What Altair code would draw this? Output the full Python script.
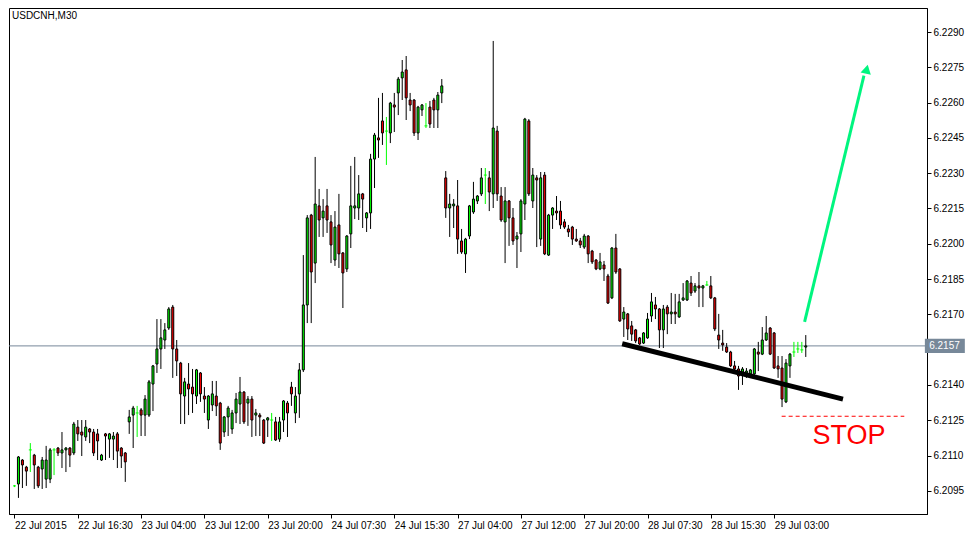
import altair as alt
import pandas as pd

# ---------------- data ----------------
opens = [6.20971, 6.20979, 6.21081, 6.21051, 6.21124, 6.21102, 6.21051, 6.21043, 6.21000, 6.21000,
         6.21124, 6.21132, 6.21111, 6.21124, 6.21132, 6.21111, 6.21221, 6.21200, 6.21179, 6.21213,
         6.21200, 6.21192, 6.21081, 6.21192, 6.21170, 6.21170, 6.21192, 6.21132, 6.21111, 6.21243,
         6.21272, 6.21281, 6.21294, 6.21272, 6.21272, 6.21404, 6.21489, 6.21553, 6.21591, 6.21642,
         6.21731, 6.21553, 6.21493, 6.21353, 6.21404, 6.21391, 6.21353, 6.21451, 6.21353, 6.21251,
         6.21315, 6.21353, 6.21323, 6.21200, 6.21264, 6.21213, 6.21281, 6.21319, 6.21370, 6.21323,
         6.21340, 6.21272, 6.21272, 6.21251, 6.21251, 6.21251, 6.21243, 6.21170, 6.21251, 6.21323,
         6.21391, 6.21281, 6.21362, 6.21464, 6.21740, 6.22122, 6.21918, 6.22161, 6.22110, 6.22161,
         6.22093, 6.21931, 6.22080, 6.21961, 6.21893, 6.22042, 6.22152, 6.22152, 6.22212, 6.22110,
         6.22131, 6.22360, 6.22450, 6.22522, 6.22479, 6.22471, 6.22590, 6.22641, 6.22705, 6.22739,
         6.22611, 6.22611, 6.22471, 6.22569, 6.22501, 6.22581, 6.22611, 6.22569, 6.22641, 6.22280,
         6.22152, 6.22161, 6.22161, 6.22012, 6.21957, 6.22033, 6.22135, 6.22182, 6.22212, 6.22292,
         6.22280, 6.22212, 6.22479, 6.22203, 6.22093, 6.22182, 6.22110, 6.22020, 6.22042, 6.22169,
         6.22522, 6.22182, 6.22280, 6.22020, 6.22292, 6.21952, 6.22122, 6.22139, 6.22139, 6.22093,
         6.22063, 6.22071, 6.22020, 6.22012, 6.21986, 6.22033, 6.21969, 6.21931, 6.21893, 6.21910,
         6.21863, 6.21770, 6.21982, 6.21893, 6.21680, 6.21702, 6.21651, 6.21634, 6.21600, 6.21578,
         6.21600, 6.21693, 6.21740, 6.21723, 6.21634, 6.21731, 6.21702, 6.21710, 6.21689, 6.21761,
         6.21761, 6.21833, 6.21799, 6.21821, 6.21812, 6.21825, 6.21821, 6.21770, 6.21612, 6.21578,
         6.21561, 6.21540, 6.21481, 6.21468, 6.21455, 6.21451, 6.21447, 6.21447, 6.21540, 6.21531,
         6.21591, 6.21642, 6.21621, 6.21481, 6.21472, 6.21328, 6.21481, 6.21540, 6.21553, 6.21549,
         6.21561]

highs = [6.20975, 6.21098, 6.21085, 6.21056, 6.21153, 6.21107, 6.21056, 6.21094, 6.21141, 6.21132,
         6.21132, 6.21136, 6.21200, 6.21136, 6.21136, 6.21243, 6.21251, 6.21251, 6.21251, 6.21217,
         6.21213, 6.21213, 6.21107, 6.21196, 6.21196, 6.21200, 6.21200, 6.21136, 6.21115, 6.21294,
         6.21311, 6.21311, 6.21302, 6.21357, 6.21421, 6.21485, 6.21680, 6.21680, 6.21663, 6.21731,
         6.21740, 6.21591, 6.21498, 6.21430, 6.21493, 6.21468, 6.21468, 6.21455, 6.21391, 6.21357,
         6.21417, 6.21417, 6.21328, 6.21268, 6.21311, 6.21294, 6.21366, 6.21434, 6.21374, 6.21353,
         6.21353, 6.21298, 6.21281, 6.21255, 6.21264, 6.21281, 6.21264, 6.21264, 6.21336, 6.21332,
         6.21413, 6.21391, 6.21493, 6.21952, 6.22122, 6.22127, 6.22369, 6.22233, 6.22190, 6.22233,
         6.22122, 6.22139, 6.22212, 6.21965, 6.22037, 6.22331, 6.22369, 6.22292, 6.22216, 6.22135,
         6.22382, 6.22471, 6.22620, 6.22641, 6.22539, 6.22603, 6.22641, 6.22709, 6.22781, 6.22798,
         6.22641, 6.22615, 6.22586, 6.22594, 6.22598, 6.22607, 6.22620, 6.22645, 6.22700, 6.22309,
         6.22212, 6.22190, 6.22271, 6.22063, 6.22025, 6.22165, 6.22263, 6.22207, 6.22322, 6.22322,
         6.22309, 6.22862, 6.22501, 6.22241, 6.22241, 6.22186, 6.22152, 6.22050, 6.22190, 6.22535,
         6.22530, 6.22322, 6.22292, 6.22305, 6.22305, 6.22127, 6.22156, 6.22203, 6.22182, 6.22105,
         6.22080, 6.22076, 6.22063, 6.22025, 6.22042, 6.22037, 6.21974, 6.21935, 6.21961, 6.21927,
         6.21872, 6.21986, 6.22042, 6.21897, 6.21731, 6.21706, 6.21672, 6.21638, 6.21604, 6.21625,
         6.21706, 6.21791, 6.21774, 6.21727, 6.21740, 6.21740, 6.21791, 6.21787, 6.21787, 6.21833,
         6.21846, 6.21863, 6.21833, 6.21880, 6.21825, 6.21842, 6.21863, 6.21774, 6.21702, 6.21634,
         6.21578, 6.21545, 6.21502, 6.21481, 6.21476, 6.21472, 6.21468, 6.21557, 6.21583, 6.21646,
         6.21693, 6.21646, 6.21625, 6.21523, 6.21523, 6.21510, 6.21536, 6.21583, 6.21583, 6.21583,
         6.21612]

lows = [6.20966, 6.20920, 6.20962, 6.20971, 6.21030, 6.20958, 6.20962, 6.20958, 6.20962, 6.20983,
        6.21017, 6.21098, 6.21047, 6.21030, 6.21051, 6.21102, 6.21162, 6.21098, 6.21162, 6.21153,
        6.21098, 6.21081, 6.21077, 6.21081, 6.21090, 6.21081, 6.21047, 6.21047, 6.20988, 6.21192,
        6.21132, 6.21179, 6.21183, 6.21183, 6.21264, 6.21289, 6.21451, 6.21468, 6.21553, 6.21634,
        6.21430, 6.21438, 6.21234, 6.21234, 6.21272, 6.21281, 6.21319, 6.21328, 6.21281, 6.21213,
        6.21289, 6.21268, 6.21124, 6.21179, 6.21183, 6.21192, 6.21238, 6.21234, 6.21234, 6.21226,
        6.21179, 6.21183, 6.21183, 6.21149, 6.21179, 6.21162, 6.21162, 6.21158, 6.21200, 6.21179,
        6.21311, 6.21238, 6.21260, 6.21455, 6.21663, 6.21663, 6.21833, 6.22029, 6.22029, 6.22046,
        6.21918, 6.21906, 6.21897, 6.21727, 6.21880, 6.21982, 6.22105, 6.22101, 6.22067, 6.22050,
        6.22063, 6.22237, 6.22365, 6.22420, 6.22335, 6.22428, 6.22475, 6.22547, 6.22611, 6.22526,
        6.22564, 6.22458, 6.22441, 6.22543, 6.22492, 6.22492, 6.22492, 6.22492, 6.22598, 6.22110,
        6.22029, 6.22067, 6.21957, 6.21957, 6.21876, 6.22020, 6.22127, 6.22169, 6.22203, 6.22169,
        6.22139, 6.22152, 6.22182, 6.22093, 6.21918, 6.21991, 6.21995, 6.21897, 6.21965, 6.22101,
        6.22203, 6.22152, 6.21986, 6.21991, 6.21952, 6.21948, 6.22063, 6.22101, 6.22063, 6.22063,
        6.22029, 6.21995, 6.22008, 6.21982, 6.21978, 6.21918, 6.21914, 6.21888, 6.21888, 6.21842,
        6.21744, 6.21765, 6.21872, 6.21668, 6.21604, 6.21591, 6.21587, 6.21578, 6.21570, 6.21574,
        6.21596, 6.21668, 6.21680, 6.21557, 6.21557, 6.21616, 6.21659, 6.21659, 6.21685, 6.21757,
        6.21757, 6.21778, 6.21791, 6.21731, 6.21731, 6.21821, 6.21765, 6.21629, 6.21553, 6.21545,
        6.21536, 6.21476, 6.21459, 6.21379, 6.21400, 6.21430, 6.21438, 6.21443, 6.21459, 6.21527,
        6.21587, 6.21527, 6.21468, 6.21430, 6.21306, 6.21323, 6.21430, 6.21519, 6.21536, 6.21536,
        6.21519]

closes = [6.20971, 6.21094, 6.21060, 6.21034, 6.21124, 6.21060, 6.20971, 6.21081, 6.21081, 6.21124,
          6.21124, 6.21111, 6.21124, 6.21132, 6.21102, 6.21234, 6.21192, 6.21187, 6.21221, 6.21200,
          6.21111, 6.21162, 6.21102, 6.21183, 6.21192, 6.21183, 6.21119, 6.21098, 6.21073, 6.21264,
          6.21302, 6.21281, 6.21272, 6.21340, 6.21413, 6.21481, 6.21553, 6.21600, 6.21634, 6.21723,
          6.21553, 6.21502, 6.21362, 6.21413, 6.21383, 6.21362, 6.21464, 6.21362, 6.21340, 6.21353,
          6.21362, 6.21311, 6.21153, 6.21264, 6.21302, 6.21281, 6.21340, 6.21370, 6.21243, 6.21340,
          6.21251, 6.21281, 6.21264, 6.21153, 6.21260, 6.21251, 6.21166, 6.21243, 6.21332, 6.21281,
          6.21362, 6.21353, 6.21464, 6.21740, 6.22110, 6.21880, 6.22169, 6.22101, 6.22139, 6.22101,
          6.21995, 6.22071, 6.21957, 6.21876, 6.22033, 6.22161, 6.22161, 6.22212, 6.22190, 6.22131,
          6.22360, 6.22462, 6.22441, 6.22471, 6.22479, 6.22598, 6.22581, 6.22700, 6.22730, 6.22620,
          6.22590, 6.22471, 6.22581, 6.22590, 6.22501, 6.22509, 6.22569, 6.22632, 6.22671, 6.22152,
          6.22169, 6.22169, 6.22020, 6.21965, 6.22020, 6.22161, 6.22190, 6.22203, 6.22280, 6.22292,
          6.22220, 6.22492, 6.22212, 6.22101, 6.22182, 6.22110, 6.22012, 6.22033, 6.22182, 6.22530,
          6.22212, 6.22292, 6.22271, 6.22280, 6.21957, 6.22122, 6.22152, 6.22131, 6.22080, 6.22071,
          6.22050, 6.22020, 6.22012, 6.21995, 6.22033, 6.21957, 6.21923, 6.21893, 6.21923, 6.21893,
          6.21748, 6.21982, 6.21880, 6.21672, 6.21710, 6.21638, 6.21616, 6.21587, 6.21574, 6.21621,
          6.21680, 6.21753, 6.21723, 6.21634, 6.21723, 6.21702, 6.21710, 6.21702, 6.21753, 6.21770,
          6.21842, 6.21791, 6.21821, 6.21812, 6.21821, 6.21825, 6.21770, 6.21638, 6.21591, 6.21570,
          6.21540, 6.21481, 6.21468, 6.21438, 6.21468, 6.21459, 6.21464, 6.21553, 6.21531, 6.21591,
          6.21621, 6.21531, 6.21472, 6.21468, 6.21340, 6.21493, 6.21531, 6.21540, 6.21553, 6.21549,
          6.21566]

tick_bars = [0, 16, 32, 48, 64, 80, 96, 112, 128, 144, 160, 176, 192]
tick_labels = ["22 Jul 2015", "22 Jul 16:30", "23 Jul 04:00", "23 Jul 12:00",
               "23 Jul 20:00", "24 Jul 07:30", "24 Jul 15:30", "27 Jul 04:00",
               "27 Jul 12:00", "27 Jul 20:00", "28 Jul 07:30", "28 Jul 15:30",
               "29 Jul 03:00"]
price_ticks = [6.2095, 6.2110, 6.2125, 6.2140, 6.2155, 6.2170, 6.2185,
               6.2200, 6.2215, 6.2230, 6.2245, 6.2260, 6.2275, 6.2290]

symbol_title = "USDCNH,M30"
last_price = 6.21566
last_price_label = "6.2157"

trend_bars = [153.6, 209.4]
trend_prices = [6.21575, 6.21340]

arrow_bars = [199.7, 214.7]
arrow_prices = [6.21668, 6.22715]
arrow_head_bar = 215.4
arrow_head_price = 6.22742

stop_price = 6.21267
stop_bars = [193.9, 224.9]
stop_text = "STOP"
stop_text_bar = 210.9
stop_text_price = 6.21149

# ---------------- styles ----------------
BULL = "#00FF00"
BEAR = "#FF0000"
DOJI = "#00FF00"
ARROW = "#00F57F"
GREY = "#778899"
FONT = "Liberation Sans"

X_DOMAIN = [-0.125, 229.375]
Y_DOMAIN = [6.208516, 6.23002]

df = pd.DataFrame({"bar": list(range(len(opens))), "open": opens, "high": highs,
                   "low": lows, "close": closes})
df["dir"] = ["up" if c > o else ("down" if c < o else "doji") for o, c in zip(opens, closes)]
df["bl"] = df["bar"] - 0.375
df["br"] = df["bar"] + 0.375
candles = df[df["dir"] != "doji"]
dojis = df[df["dir"] == "doji"]

xscale = alt.Scale(domain=X_DOMAIN, nice=False, zero=False)
yscale = alt.Scale(domain=Y_DOMAIN, nice=False, zero=False)

label_expr = "[" + ",".join("'" + t + "'" for t in tick_labels) + "][round(datum.value/16)]"

xaxis = alt.Axis(values=tick_bars, labelExpr=label_expr, title=None, grid=False,
                 tickSize=4, tickColor="black", domainColor="black", labelColor="black",
                 labelAlign="left", labelPadding=2, labelFont=FONT, labelFontSize=10,
                 labelFlush=False, labelOverlap=False, labelBound=False, domain=True)
yaxis = alt.Axis(orient="right", values=price_ticks, format=".4f", title=None, grid=False,
                 tickSize=4, tickColor="black", domainColor="black", labelColor="black",
                 labelPadding=2, labelFont=FONT, labelFontSize=10, labelOverlap=False,
                 labelFlush=False, labelBound=False)


def X(field):
    return alt.X(field, type="quantitative", scale=xscale, axis=xaxis)


def Y(field):
    return alt.Y(field, type="quantitative", scale=yscale, axis=yaxis)


price_line = alt.Chart(pd.DataFrame({"p": [last_price]})).mark_rule(
    color=GREY, strokeWidth=1).encode(y=Y("p"))

wicks = alt.Chart(candles).mark_rule(color="black", strokeWidth=1, clip=True).encode(
    x=X("bar"), y=Y("low"), y2="high")

bodies = alt.Chart(candles).mark_bar(size=2, stroke="black", strokeWidth=1, clip=True).encode(
    x=X("bar"), y=Y("open"), y2="close",
    fill=alt.Fill("dir:N", scale=alt.Scale(domain=["up", "down"], range=[BULL, BEAR]), legend=None))

doji_wicks = alt.Chart(dojis).mark_rule(color=DOJI, strokeWidth=1, clip=True).encode(
    x=X("bar"), y=Y("low"), y2="high")
doji_ticks = alt.Chart(dojis).mark_rule(color=DOJI, strokeWidth=1, clip=True).encode(
    x=X("bl"), x2="br", y=Y("open"))

trend = alt.Chart(pd.DataFrame({"bar": trend_bars, "p": trend_prices})).mark_line(
    color="black", strokeWidth=5, strokeCap="butt").encode(x=X("bar"), y=Y("p"))

arrow_line = alt.Chart(pd.DataFrame({"bar": arrow_bars, "p": arrow_prices})).mark_line(
    color=ARROW, strokeWidth=3, strokeCap="butt").encode(x=X("bar"), y=Y("p"))

arrow_head = alt.Chart(pd.DataFrame({"bar": [arrow_head_bar], "p": [arrow_head_price]})).mark_point(
    shape="triangle-up", filled=True, size=110, angle=13, color=ARROW, opacity=1).encode(
    x=X("bar"), y=Y("p"))

stop_line = alt.Chart(pd.DataFrame({"b1": [stop_bars[0]], "b2": [stop_bars[1]], "p": [stop_price]})).mark_rule(
    color="#FF0000", strokeWidth=1, strokeDash=[4, 3]).encode(x=X("b1"), x2="b2", y=Y("p"))

stop_label = alt.Chart(pd.DataFrame({"bar": [stop_text_bar], "p": [stop_text_price], "t": [stop_text]})).mark_text(
    font=FONT, fontSize=27, color="#FF0000", align="center", baseline="alphabetic").encode(
    x=X("bar"), y=Y("p"), text="t:N")

title_txt = alt.Chart(pd.DataFrame({"t": [symbol_title]})).mark_text(
    font=FONT, fontSize=10, color="black", align="left", baseline="top").encode(
    x=alt.value(3), y=alt.value(3), text="t:N")

box = alt.Chart(pd.DataFrame({"b1": [230.1], "b2": [240.2],
                              "p1": [last_price - 0.0003], "p2": [last_price + 0.0003]})).mark_rect(
    color=GREY, clip=False).encode(x=X("b1"), x2="b2", y=Y("p1"), y2="p2")

box_txt = alt.Chart(pd.DataFrame({"bar": [231.2], "p": [last_price], "t": [last_price_label]})).mark_text(
    font=FONT, fontSize=10, color="white", align="left", baseline="middle", clip=False).encode(
    x=X("bar"), y=Y("p"), text="t:N")

chart = alt.layer(
    price_line, wicks, bodies, doji_wicks, doji_ticks, trend, arrow_line, arrow_head,
    stop_line, stop_label, title_txt, box, box_txt
).properties(
    width=918, height=506, padding=0, background="white"
).configure_view(
    stroke="black", strokeWidth=1
)

chart.save("out.html", embed_options={"renderer": "svg", "actions": False})
